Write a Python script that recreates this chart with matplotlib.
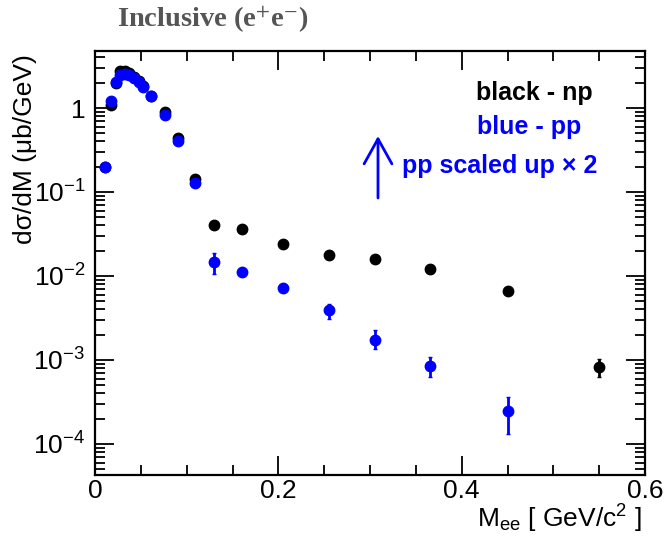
import matplotlib
matplotlib.use("Agg")
import matplotlib.pyplot as plt
import numpy as np
from matplotlib.ticker import FixedLocator, FuncFormatter, MultipleLocator, LogLocator, NullFormatter

plt.rcParams['font.family'] = ['Liberation Sans', 'DejaVu Sans']
plt.rcParams['mathtext.fontset'] = 'custom'
plt.rcParams['mathtext.rm'] = 'Liberation Sans'
plt.rcParams['mathtext.it'] = 'Liberation Sans:italic'
plt.rcParams['mathtext.bf'] = 'Liberation Sans:bold'

# ---- data ----
mass = [0.0105, 0.0175, 0.0225, 0.0275, 0.0325, 0.0375, 0.0425, 0.0475, 0.0525,
        0.0615, 0.0765, 0.091, 0.109, 0.13, 0.16, 0.205, 0.255, 0.305, 0.365, 0.45, 0.55]
np_vals = [0.2, 1.1, 2.0, 2.75, 2.75, 2.6, 2.35, 2.1, 1.85,
           1.4, 0.9, 0.44, 0.143, 0.040, 0.036, 0.024, 0.018, 0.016, 0.012, 0.0067, 0.00083]
np_err = [0.01, 0.05, 0.08, 0.1, 0.1, 0.1, 0.09, 0.08, 0.07,
          0.05, 0.03, 0.015, 0.006, 0.002, 0.0015, 0.001, 0.0008, 0.0007, 0.0006, 0.0004, 0.0002]

pp_mass = mass[:-1]
pp_vals = [0.2, 1.2, 2.05, 2.45, 2.55, 2.45, 2.25, 2.05, 1.8,
           1.38, 0.83, 0.40, 0.127, 0.0145, 0.0113, 0.0071, 0.0039, 0.00175, 0.00085, 0.00025]
pp_err_lo = [0.01, 0.05, 0.08, 0.1, 0.1, 0.1, 0.09, 0.08, 0.07,
             0.05, 0.03, 0.015, 0.006, 0.004, 0.0012, 0.0006, 0.0008, 0.0004, 0.00022, 0.00012]
pp_err_hi = [0.01, 0.05, 0.08, 0.1, 0.1, 0.1, 0.09, 0.08, 0.07,
             0.05, 0.03, 0.015, 0.006, 0.0045, 0.0012, 0.0006, 0.0008, 0.0005, 0.00024, 0.00011]

y_tick_vals = [1e-4, 1e-3, 1e-2, 1e-1, 1]
x_tick_vals = [0, 0.2, 0.4, 0.6]

fig = plt.figure(figsize=(6.64, 5.39), dpi=100)
ax = fig.add_axes([95/664, 1-475/539, 550/664, 424/539])

ax.errorbar(mass, np_vals, yerr=np_err, fmt='o', color='black', ms=7.5,
            elinewidth=2, capsize=1.5, zorder=3)
ax.errorbar(pp_mass, pp_vals, yerr=[pp_err_lo, pp_err_hi], fmt='o', color='#0000ff',
            ms=7.5, elinewidth=2, capsize=1.5, zorder=4)

ax.set_yscale('log')
ax.set_xlim(0, 0.6)
ax.set_ylim(10**(-4.37), 10**(0.679))

ax.xaxis.set_major_locator(FixedLocator(x_tick_vals))
ax.xaxis.set_minor_locator(MultipleLocator(0.05))
ax.xaxis.set_major_formatter(FuncFormatter(lambda v, p: '0' if abs(v) < 1e-9 else f'{v:g}'))

ax.yaxis.set_major_locator(FixedLocator(y_tick_vals))
ax.yaxis.set_minor_locator(LogLocator(base=10, subs=np.arange(2, 10)))
ax.yaxis.set_minor_formatter(NullFormatter())

def yfmt(v, p):
    e = int(round(np.log10(v)))
    if e == 0:
        return '1'
    return r'$10^{%d}$' % e
ax.yaxis.set_major_formatter(FuncFormatter(yfmt))

ax.tick_params(which='both', direction='in', top=True, right=True, width=1.3,
               labelsize=19, colors='black')
ax.tick_params(which='major', length=14)
ax.tick_params(which='minor', length=7)
ax.tick_params(axis='x', which='major', pad=3)
ax.tick_params(axis='y', which='major', pad=7)
for s in ax.spines.values():
    s.set_linewidth(1.6)

# axis labels
fig.text(25/664, 1-149/539, 'dσ/dM (μb/GeV)', rotation=90, ha='center', va='center',
         fontsize=19)
fig.text(642/664, 1-519/539, r'M$_{\rm ee}$ [ GeV/c$^{2}$ ]', ha='right', va='center',
         fontsize=19)

# title
fig.text(213/664, 1-20/539, r'Inclusive (e$^{+}$e$^{-}$)', ha='center', va='center',
         fontsize=20.5, family='Liberation Serif', weight='bold', color='#555555',
         math_fontfamily='stix')

# annotations
ax.text((476-95)/550, (475-93)/424, 'black - np', transform=ax.transAxes,
        ha='left', va='center', fontsize=18, weight='bold', color='black')
ax.text((477-95)/550, (475-127)/424, 'blue - pp', transform=ax.transAxes,
        ha='left', va='center', fontsize=18, weight='bold', color='#0000ff')
ax.text((402-95)/550, (475-166)/424, 'pp scaled up × 2', transform=ax.transAxes,
        ha='left', va='center', fontsize=18, weight='bold', color='#0000ff')
ax.annotate('', xy=((378-95)/550, (475-136)/424), xytext=((378-95)/550, (475-198)/424),
            xycoords='axes fraction', textcoords='axes fraction',
            arrowprops=dict(arrowstyle='->,head_length=0.9,head_width=0.5', color='#0000ff',
                            lw=2, mutation_scale=20, shrinkA=0, shrinkB=0))

fig.savefig('out.png', dpi=100)
